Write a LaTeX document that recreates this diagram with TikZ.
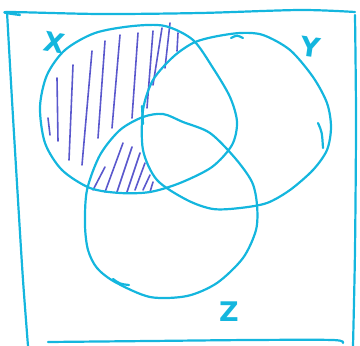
\documentclass[tikz,border=0pt]{standalone}
\usepackage{fontspec}
\setmainfont{DejaVu Sans}
\definecolor{tirkiz}{RGB}{20,182,222}
\definecolor{ljubic}{RGB}{90,88,205}

\begin{document}
\begin{tikzpicture}[
  x=1pt, y=-1pt,
  skup/.style={draw=tirkiz, line width=2.2pt, line cap=round, line join=round},
  sraf/.style={draw=ljubic, line width=1.6pt, line cap=round},
  slovo/.style={text=tirkiz, font=\fontsize{27}{30}\selectfont\bfseries, inner sep=0pt}
]
  \useasboundingbox (0,0) rectangle (360,346);

  % okvir
  \draw[skup] plot[smooth] coordinates {(20,15) (7,12) (100,14) (200,13) (300,10) (355,12)};
  \draw[skup] plot[smooth] coordinates {(7,12) (12,100) (18,200) (23,280) (28,346)};
  \draw[skup] plot[smooth] coordinates {(355,15) (356,120) (355,250) (353,346)};
  \draw[skup] plot[smooth] coordinates {(48,342) (150,341) (250,340) (333,340) (343,343)};

  % srafura X bez Y
  \foreach \xa/\ya/\xb/\yb in {48/118/50/135, 57/78/58/141, 73/65/69/160,
      92/51/82/165, 105/41/98/138, 120/35/112/128, 138/33/132/118,
      153/31/147/108, 162/28/153/85, 170/23/165/68, 178/33/177/51,
      93/190/105/167, 105/192/123/143, 117/192/132/147, 127/192/140/153,
      135/190/145/163, 143/190/150/175, 150/192/153/182}
    \draw[sraf] (\xa,\ya) -- (\xb,\yb);

  % skup X
  \draw[skup] plot[smooth cycle] coordinates {(40,107) (47,75) (65,50) (95,33)
      (133,26) (165,26) (193,40) (213,68) (230,97) (237,122) (232,145)
      (212,167) (180,183) (150,192) (120,193) (90,188) (62,170) (45,143)};
  % skup Y
  \draw[skup] plot[smooth cycle] coordinates {(193,43) (213,37) (240,33)
      (263,35) (290,50) (313,77) (327,103) (331,127) (327,150) (313,170)
      (290,190) (267,203) (240,208) (213,209) (187,200) (157,180) (143,150)
      (143,110) (153,80) (173,57)};
  \draw[skup] (318,123) .. controls (322,132) .. (323,148);
  \draw[skup] (231,38) .. controls (237,35) .. (243,38);
  % skup Z
  \draw[skup] plot[smooth cycle] coordinates {(143,117) (163,114) (183,122)
      (210,133) (235,158) (252,182) (257,205) (256,230) (243,258) (217,283)
      (187,296) (150,297) (115,282) (97,268) (88,250) (85,225) (87,190)
      (100,155) (120,130)};
  \draw[skup] (142,106) -- (143,124);
  \draw[skup] (113,279) .. controls (120,284) .. (129,285);

  \node[slovo, rotate=-10] (ozX) at (54,43) {X};
  \node[slovo, rotate=-8] (ozY) at (311,47) {Y};
  \node[slovo] (ozZ) at (229,312) {Z};
\end{tikzpicture}
\end{document}
